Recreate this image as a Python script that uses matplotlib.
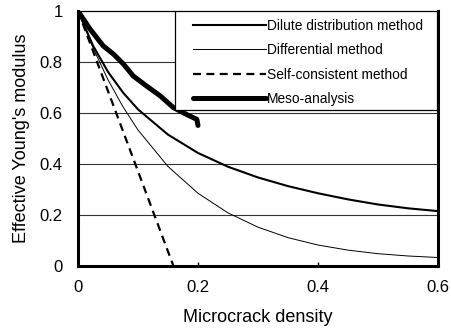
import matplotlib
matplotlib.use("Agg")
import matplotlib.pyplot as plt
from matplotlib.patches import Rectangle

plt.rcParams['font.family'] = ['Liberation Sans', 'DejaVu Sans']

# Microcrack density sample points and effective modulus for each model
density = [0.0, 0.025, 0.05, 0.075, 0.1, 0.15, 0.2, 0.25, 0.3, 0.35, 0.4, 0.45, 0.5, 0.55, 0.6]
dilute = [1.0, 0.864, 0.761, 0.680, 0.614, 0.515, 0.443, 0.389, 0.347, 0.313, 0.285, 0.261, 0.241, 0.226, 0.215]
differential = [1.0, 0.855, 0.730, 0.624, 0.533, 0.390, 0.285, 0.208, 0.152, 0.111, 0.082, 0.062, 0.048, 0.039, 0.033]

self_density = [0.0, 0.159]
self_consistent = [1.0, 0.0]

meso_density = [0.0, 0.02, 0.042, 0.059, 0.076, 0.092, 0.114, 0.137, 0.159, 0.181, 0.198, 0.2]
meso = [1.0, 0.929, 0.863, 0.831, 0.791, 0.745, 0.706, 0.667, 0.621, 0.594, 0.575, 0.551]

labels = ["Dilute distribution method", "Differential method",
          "Self-consistent method", "Meso-analysis"]

x_ticks = [0, 0.2, 0.4, 0.6]
x_tick_labels = ["0", "0.2", "0.4", "0.6"]
y_ticks = [0, 0.2, 0.4, 0.6, 0.8, 1.0]
y_tick_labels = ["0", "0.2", "0.4", "0.6", "0.8", "1"]

fig = plt.figure(figsize=(4.52, 3.32), dpi=100)
ax = fig.add_axes([0.1726, 0.199, 0.7964, 0.768])

for y in y_ticks[1:-1]:
    ax.axhline(y, color='#333333', lw=0.8, zorder=1)

ax.plot(density, dilute, color='black', lw=1.5, label=labels[0], zorder=3)
ax.plot(density, differential, color='black', lw=0.7, label=labels[1], zorder=3)
ax.plot(self_density, self_consistent, color='black', lw=1.6, ls=(0, (3.6, 2.4)),
        label=labels[2], zorder=3)
ax.plot(meso_density, meso, color='black', lw=3.6, label=labels[3],
        solid_capstyle='round', solid_joinstyle='round', zorder=4)

ax.set_xlim(0, 0.6)
ax.set_ylim(0, 1.0)
ax.set_xticks(x_ticks)
ax.set_xticklabels(x_tick_labels, fontsize=12)
ax.set_yticks(y_ticks)
ax.set_yticklabels(y_tick_labels, fontsize=12)
ax.tick_params(axis='x', direction='in', length=3, width=1, pad=10)
ax.tick_params(axis='y', length=0, pad=11)

for side in ('left', 'bottom', 'right'):
    ax.spines[side].set_linewidth(2.2)
ax.spines['top'].set_linewidth(0.9)

ax.set_xlabel("Microcrack density", fontsize=13, labelpad=10)
ax.set_ylabel("Effective Young's modulus", fontsize=13, labelpad=7)

# legend box drawn as a patch, entries placed inside without their own frame
box = Rectangle((0.2694, 0.612), 0.728, 0.388, transform=ax.transAxes,
                facecolor='white', edgecolor='black', lw=0.9, zorder=5)
ax.add_patch(box)
leg = ax.legend(loc='upper left', bbox_to_anchor=(0.319, 0.970), fontsize=9.9,
                frameon=False, handlelength=5.3, handletextpad=0.1,
                labelspacing=0.76, borderpad=0.0, borderaxespad=0.0)
leg.set_zorder(6)

fig.savefig("out.png", dpi=100)
